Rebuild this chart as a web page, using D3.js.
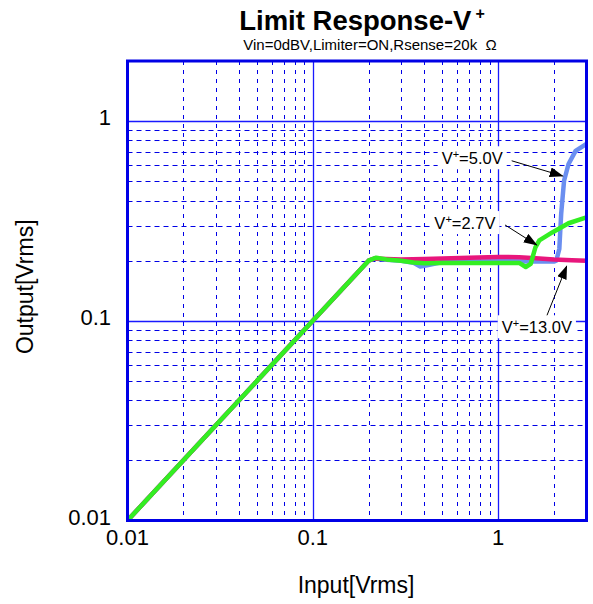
<!DOCTYPE html>
<html><head><meta charset="utf-8">
<script src="https://cdn.jsdelivr.net/npm/d3@7"></script>
<style>
body{margin:0;background:#fff}
svg{display:block}
text{font-family:"Liberation Sans",Arial,Helvetica,sans-serif;fill:#000}
</style>
</head><body>
<svg id="chart" width="593" height="604"></svg>
<script>
// ---- data ----
const xTickValues = [0.01, 0.1, 1];
const xTickLabels = ["0.01", "0.1", "1"];
const yTickValues = [0.01, 0.1, 1];
const yTickLabels = ["0.01", "0.1", "1"];

// V+ = 13.0V (pink)
const input13 = [0.01, 0.1, 0.2, 0.215, 0.25, 0.3, 0.4, 0.5, 0.7, 1.0, 1.3, 1.6, 2.0, 2.5, 3.0];
const output13 = [0.01, 0.1, 0.2, 0.205, 0.204, 0.203, 0.204, 0.205, 0.207, 0.209, 0.208, 0.206, 0.203, 0.201, 0.2];

// V+ = 5.0V (blue)
const input50 = [0.01, 0.1, 0.2, 0.215, 0.25, 0.3, 0.35, 0.38, 0.42, 0.5, 0.7, 1.0, 1.5, 2.0, 2.06, 2.14, 2.19, 2.27, 2.4, 2.62, 3.0];
const output50 = [0.01, 0.1, 0.2, 0.205, 0.202, 0.2, 0.195, 0.187, 0.19, 0.197, 0.198, 0.199, 0.198, 0.198, 0.2, 0.229, 0.343, 0.503, 0.61, 0.71, 0.77];

// V+ = 2.7V (green)
const input27 = [0.01, 0.1, 0.2, 0.22, 0.25, 0.3, 0.35, 0.4, 0.5, 0.7, 1.0, 1.3, 1.41, 1.5, 1.59, 1.67, 1.96, 2.4, 3.0];
const output27 = [0.01, 0.1, 0.2, 0.207, 0.203, 0.2, 0.196, 0.194, 0.195, 0.195, 0.195, 0.195, 0.186, 0.193, 0.233, 0.253, 0.277, 0.308, 0.33];

const seriesNames = ["13.0V", "5.0V", "2.7V"];
const seriesColors = ["#e8167c", "#6b8ff0", "#33ee22"];

// annotation: label anchor, arrow start, arrow tip (data coords)
const annLabels = ["5.0V", "2.7V", "13.0V"];
const annTextX = [0.496, 0.453, 1.046];
const annTextY = [0.608, 0.288, 0.0866];
const annFromX = [1.184, 1.09, 1.83];
const annFromY = [0.633, 0.302, 0.1057];
const annToX = [2.232, 1.616, 2.345];
const annToY = [0.531, 0.2396, 0.188];

// ---- chart ----
const svg = d3.select("#chart");
const L = 127.5, R = 586.5, T = 61, B = 520.5;
const x = d3.scaleLog().domain([0.01, 3]).range([L, R]);
const y = d3.scaleLog().domain([0.01, 2]).range([B, T]);
const gridColor = "#0000e6";
const majorColor = "#1a1aff";

const g = svg.append("g");

// grid
const xt = x.ticks().filter(v => v > 0.01 * 1.0001 && v < 3 * 0.9999);
const yt = y.ticks().filter(v => v > 0.01 * 1.0001 && v < 2 * 0.9999);
const isMajor = v => Math.abs(Math.log10(v) - Math.round(Math.log10(v))) < 1e-6;

g.selectAll("line.xg").data(xt).join("line")
  .attr("x1", d => Math.round(x(d)) + 0.5).attr("x2", d => Math.round(x(d)) + 0.5)
  .attr("y1", T).attr("y2", B)
  .attr("stroke", d => isMajor(d) ? majorColor : gridColor).attr("stroke-width", d => isMajor(d) ? 1.3 : 1)
  .attr("stroke-dasharray", d => isMajor(d) ? null : "4,5");

g.selectAll("line.yg").data(yt).join("line")
  .attr("y1", d => Math.round(y(d)) + 0.5).attr("y2", d => Math.round(y(d)) + 0.5)
  .attr("x1", L).attr("x2", R)
  .attr("stroke", d => isMajor(d) ? majorColor : gridColor).attr("stroke-width", d => isMajor(d) ? 1.3 : 1)
  .attr("stroke-dasharray", d => isMajor(d) ? null : "5,4");

// curves
const line = d3.line().x(d => x(d[0])).y(d => y(d[1]));
const series = [
  { name: seriesNames[1], color: seriesColors[1], pts: d3.zip(input50, output50) },
  { name: seriesNames[0], color: seriesColors[0], pts: d3.zip(input13, output13) },
  { name: seriesNames[2], color: seriesColors[2], pts: d3.zip(input27, output27) }
];
svg.append("clipPath").attr("id", "pc").append("rect")
  .attr("x", L).attr("y", T).attr("width", R - L).attr("height", B - T);
svg.append("g").attr("clip-path", "url(#pc)")
  .selectAll("path").data(series).join("path")
  .attr("d", d => line(d.pts))
  .attr("fill", "none").attr("stroke", d => d.color)
  .attr("stroke-width", 4.5).attr("stroke-linejoin", "round").attr("stroke-linecap", "round");

// frame
svg.append("rect").attr("x", L).attr("y", T).attr("width", R - L).attr("height", B - T)
  .attr("fill", "none").attr("stroke", gridColor).attr("stroke-width", 3);

// annotations
const defs = svg.append("defs");
defs.append("marker").attr("id", "ah").attr("markerUnits", "userSpaceOnUse")
  .attr("markerWidth", 14).attr("markerHeight", 10).attr("refX", 13).attr("refY", 5)
  .attr("orient", "auto")
  .append("path").attr("d", "M0,0L14,5L0,10Z").attr("fill", "#000");

const ann = svg.append("g");
annLabels.forEach((lab, i) => {
  ann.append("line")
    .attr("x1", x(annFromX[i])).attr("y1", y(annFromY[i]))
    .attr("x2", x(annToX[i])).attr("y2", y(annToY[i]))
    .attr("stroke", "#000").attr("stroke-width", 1).attr("marker-end", "url(#ah)");
  const bg = ann.append("rect").attr("fill", "#fff");
  const t = ann.append("text").attr("x", x(annTextX[i])).attr("y", y(annTextY[i]))
    .attr("font-size", 16.5);
  t.append("tspan").text("V");
  t.append("tspan").attr("dy", -6).attr("font-size", 11).text("+");
  t.append("tspan").attr("dy", 6).text("=" + lab);
  const bb = t.node().getBBox();
  bg.attr("x", bb.x - 4).attr("y", bb.y - 2).attr("width", bb.width + 8).attr("height", bb.height + 4);
});

// tick labels
svg.append("g").selectAll("text").data(xTickValues).join("text")
  .attr("x", d => x(d)).attr("y", 545).attr("text-anchor", "middle")
  .attr("font-size", 22).text((d, i) => xTickLabels[i]);
svg.append("g").selectAll("text").data(yTickValues).join("text")
  .attr("x", 111).attr("y", d => y(d) + 4).attr("text-anchor", "end")
  .attr("font-size", 22).text((d, i) => yTickLabels[i]);

// axis titles
svg.append("text").attr("x", 356).attr("y", 593).attr("text-anchor", "middle")
  .attr("font-size", 23).text("Input[Vrms]");
svg.append("text").attr("transform", `translate(33,${(T + B) / 2 - 4}) rotate(-90)`)
  .attr("text-anchor", "middle").attr("font-size", 23).text("Output[Vrms]");

// title
const title = svg.append("text").attr("x", 362).attr("y", 30)
  .attr("text-anchor", "middle").attr("font-size", 27.5).attr("font-weight", "bold");
title.append("tspan").text("Limit Response-V");
title.append("tspan").attr("dx", 4).attr("dy", -11).attr("font-size", 16).text("+");
svg.append("text").attr("x", 370).attr("y", 50).attr("text-anchor", "middle")
  .attr("font-size", 15).text("Vin=0dBV,Limiter=ON,Rsense=20k\u00A0\u00A0Ω");
</script>
</body></html>
